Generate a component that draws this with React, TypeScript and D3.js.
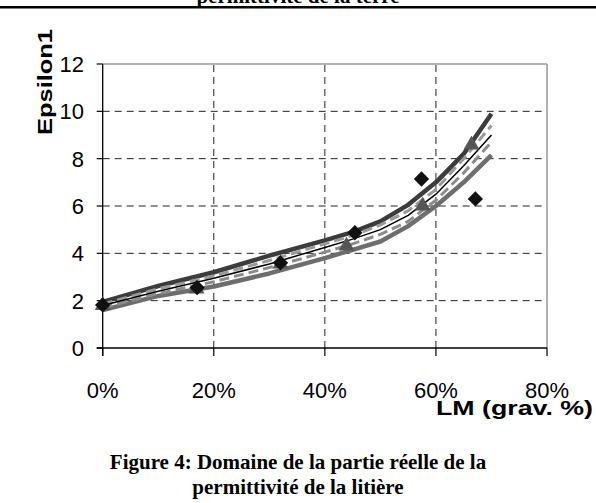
import React from "react";
import * as d3 from "d3";

const W = 596;
const H = 503;

const xTicks = [0, 20, 40, 60, 80];
const yTicks = [0, 2, 4, 6, 8, 10, 12];

const lmGrid = [0, 10, 20, 30, 40, 45, 50, 55, 60, 65, 70];
const upperCurve = [1.95, 2.62, 3.2, 3.9, 4.55, 4.9, 5.35, 6.05, 7.0, 8.2, 9.9];
const dashUpper = [1.85, 2.5, 3.05, 3.7, 4.4, 4.75, 5.2, 5.8, 6.7, 8.0, 9.4];
const middleCurve = [1.8, 2.4, 2.95, 3.55, 4.25, 4.6, 5.0, 5.6, 6.5, 7.7, 9.0];
const dashLower = [1.7, 2.3, 2.8, 3.4, 4.05, 4.4, 4.8, 5.35, 6.25, 7.4, 8.7];
const lowerCurve = [1.6, 2.2, 2.6, 3.15, 3.8, 4.15, 4.5, 5.15, 6.0, 7.0, 8.15];

const diamondX = [0, 17, 32, 45.4, 57.4, 67.1];
const diamondY = [1.82, 2.55, 3.6, 4.87, 7.14, 6.3];
const triangleX = [0, 16.9, 32, 43.9, 57.6, 66.4];
const triangleY = [1.8, 2.5, 3.55, 4.31, 6.0, 8.58];

export default function App() {
  const x = d3.scaleLinear().domain([0, 80]).range([102.7, 547]);
  const y = d3.scaleLinear().domain([0, 12]).range([348, 64]);
  const line = d3
    .line<[number, number]>()
    .x((d) => x(d[0]))
    .y((d) => y(d[1]));
  const pts = (vals: number[]) => lmGrid.map((g, i) => [g, vals[i]] as [number, number]);

  const diamond = d3.symbol().type(d3.symbolDiamond2).size(150)();
  const tri = d3.symbol().type(d3.symbolTriangle).size(110)();

  return (
    <svg
      width={W}
      height={H}
      style={{ position: "absolute", left: 0, top: 0, background: "#fff" }}
    >
      {/* Cut-off previous caption and rule */}
      <text
        x={298}
        y={3}
        textAnchor="middle"
        fontFamily="'Liberation Serif', 'Times New Roman', serif"
        fontWeight="bold"
        fontSize={21}
        fill="#000"
      >
        permittivité de la terre
      </text>
      <rect x={0} y={6} width={W} height={2.5} fill="#000" />

      {/* Grid */}
      {yTicks
        .filter((t) => t > 0 && t < 12)
        .map((t) => (
          <line
            key={"gy" + t}
            x1={x(0)}
            x2={x(80)}
            y1={y(t)}
            y2={y(t)}
            stroke="#222"
            strokeWidth={1}
            strokeDasharray="7,5"
          />
        ))}
      {xTicks
        .filter((t) => t > 0 && t < 80)
        .map((t) => (
          <line
            key={"gx" + t}
            x1={x(t)}
            x2={x(t)}
            y1={y(0)}
            y2={y(12)}
            stroke="#222"
            strokeWidth={1}
            strokeDasharray="7,5"
          />
        ))}
      {/* Border top/right gray */}
      <line x1={x(0)} x2={x(80)} y1={y(12)} y2={y(12)} stroke="#999" strokeWidth={1.5} />
      <line x1={x(80)} x2={x(80)} y1={y(12)} y2={y(0)} stroke="#999" strokeWidth={1.5} />

      {/* Axes */}
      <line x1={x(0)} x2={x(0)} y1={y(12)} y2={y(0) + 8} stroke="#000" strokeWidth={1.3} />
      <line x1={x(0) - 6} x2={x(80)} y1={y(0)} y2={y(0)} stroke="#000" strokeWidth={1.3} />
      {yTicks.map((t) => (
        <line key={"ty" + t} x1={x(0) - 6} x2={x(0)} y1={y(t)} y2={y(t)} stroke="#000" strokeWidth={1.2} />
      ))}
      {xTicks.map((t) => (
        <line key={"tx" + t} x1={x(t)} x2={x(t)} y1={y(0)} y2={y(0) + 8} stroke="#000" strokeWidth={1.2} />
      ))}

      {/* Tick labels */}
      {yTicks.map((t) => (
        <text
          key={"ly" + t}
          x={84}
          y={y(t) + 8}
          textAnchor="end"
          fontFamily="'Liberation Sans', Arial, sans-serif"
          fontSize={22}
          fill="#000"
        >
          {t}
        </text>
      ))}
      {xTicks.map((t) => (
        <text
          key={"lx" + t}
          x={x(t)}
          y={398}
          textAnchor="middle"
          fontFamily="'Liberation Sans', Arial, sans-serif"
          fontSize={22}
          fill="#000"
        >
          {t + "%"}
        </text>
      ))}

      {/* Axis titles */}
      <text
        x={436}
        y={415}
        fontFamily="'Liberation Sans', Arial, sans-serif"
        fontWeight="bold"
        fontSize={21}
        textLength={157}
        lengthAdjust="spacingAndGlyphs"
        fill="#000"
      >
        LM (grav. %)
      </text>
      <text
        transform="translate(52,135) rotate(-90)"
        fontFamily="'Liberation Sans', Arial, sans-serif"
        fontWeight="bold"
        fontSize={21}
        textLength={106}
        lengthAdjust="spacingAndGlyphs"
        fill="#000"
      >
        Epsilon1
      </text>

      {/* Curves */}
      <path d={line(pts(lowerCurve)) || ""} fill="none" stroke="#6e6e6e" strokeWidth={4.5} strokeLinejoin="round" />
      <path d={line(pts(upperCurve)) || ""} fill="none" stroke="#3c3c3c" strokeWidth={4.5} strokeLinejoin="round" />
      <path d={line(pts(dashLower)) || ""} fill="none" stroke="#8c8c8c" strokeWidth={3} strokeDasharray="10,5" />
      <path d={line(pts(dashUpper)) || ""} fill="none" stroke="#9a9a9a" strokeWidth={3} strokeDasharray="10,5" />
      <path d={line(pts(middleCurve)) || ""} fill="none" stroke="#000" strokeWidth={1.5} />

      {/* Markers */}
      {triangleX.map((v, i) => (
        <path key={"tr" + i} d={tri || ""} transform={`translate(${x(v)},${y(triangleY[i])})`} fill="#555" />
      ))}
      {diamondX.map((v, i) => (
        <path key={"di" + i} d={diamond || ""} transform={`translate(${x(v)},${y(diamondY[i])})`} fill="#111" />
      ))}

      {/* Caption */}
      <text
        x={298}
        y={469}
        textAnchor="middle"
        fontFamily="'Liberation Serif', 'Times New Roman', serif"
        fontWeight="bold"
        fontSize={21}
        fill="#000"
      >
        Figure 4: Domaine de la partie réelle de la
      </text>
      <text
        x={298}
        y={494}
        textAnchor="middle"
        fontFamily="'Liberation Serif', 'Times New Roman', serif"
        fontWeight="bold"
        fontSize={21}
        fill="#000"
      >
        permittivité de la litière
      </text>
    </svg>
  );
}
